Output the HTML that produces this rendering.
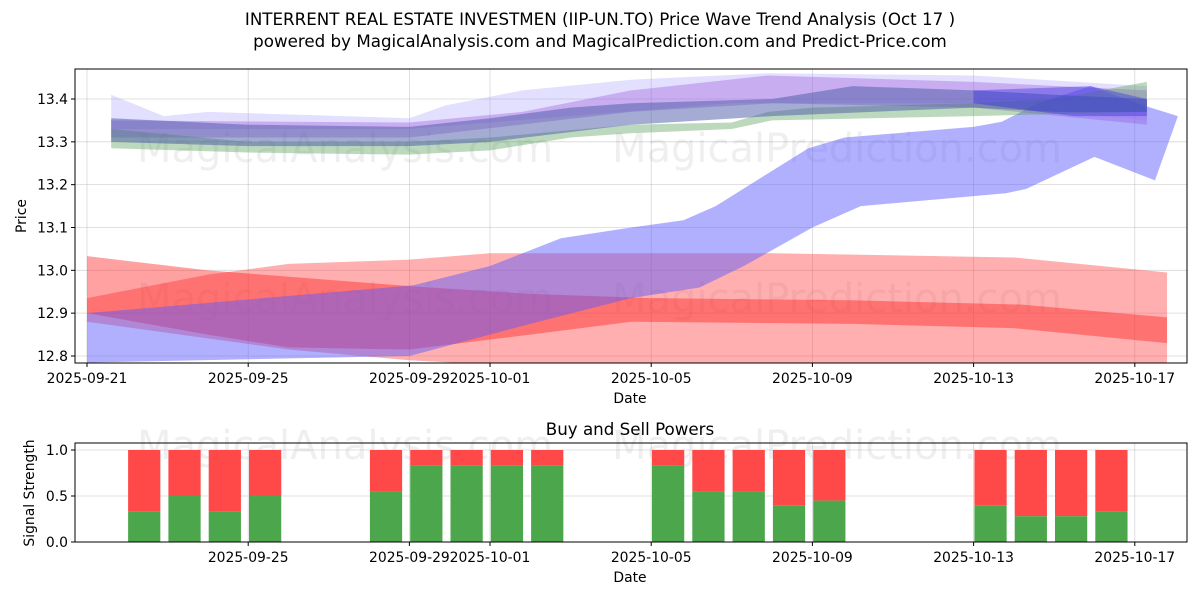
<!DOCTYPE html>
<html><head><meta charset="utf-8"><style>
body{margin:0;background:#fff;}
svg{display:block;font-family:"DejaVu Sans","Liberation Sans",sans-serif;}
</style></head><body>
<svg id="c" width="1200" height="600" viewBox="0 0 1200 600" xmlns="http://www.w3.org/2000/svg">
<rect width="1200" height="600" fill="#fff"/>
<text x="600" y="25" text-anchor="middle" font-size="16.7">INTERRENT REAL ESTATE INVESTMEN (IIP-UN.TO) Price Wave Trend Analysis (Oct 17 )</text>
<text x="600" y="47" text-anchor="middle" font-size="16.7">powered by MagicalAnalysis.com and MagicalPrediction.com and Predict-Price.com</text>
<defs>
<clipPath id="cpTop"><rect x="75" y="69" width="1112" height="294"/></clipPath>
</defs>
<g id="topg"></g>
<g id="botg"></g>
</svg>
<script>
// ---- data ----
const xTickLabelsTop = ["2025-09-21","2025-09-25","2025-09-29","2025-10-01","2025-10-05","2025-10-09","2025-10-13","2025-10-17"];
const xTickDaysTop = [0,4,8,10,14,18,22,26];
const xTickLabelsBot = ["2025-09-25","2025-09-29","2025-10-01","2025-10-05","2025-10-09","2025-10-13","2025-10-17"];
const xTickDaysBot = [4,8,10,14,18,22,26];
const yTicksTop = [12.8,12.9,13.0,13.1,13.2,13.3,13.4];
const yTicksBot = [0.0,0.5,1.0];

const lavenderUpper = [[0.6,13.41],[1.9,13.36],[3,13.37],[8,13.355],[8.9,13.385],[10.8,13.42],[13.5,13.445],[16.9,13.46],[22,13.455],[26.3,13.43]];
const lavenderLower = [[0.6,13.33],[8,13.33],[12,13.36],[16,13.39],[22,13.39],[26.3,13.35]];
const purpleUpper = [[0.6,13.35],[8,13.345],[10.8,13.37],[13.5,13.42],[16.9,13.455],[22,13.44],[26.3,13.42]];
const purpleLower = [[0.6,13.31],[8,13.31],[13.5,13.37],[17,13.39],[22,13.38],[26.3,13.34]];
const slateUpper = [[0.6,13.355],[4,13.34],[8,13.335],[10,13.355],[12,13.38],[13.5,13.39],[17,13.40],[19,13.43],[22,13.42],[24,13.41],[26.3,13.40]];
const slateLower = [[0.6,13.30],[4,13.29],[8,13.29],[10,13.30],[13.5,13.34],[17,13.36],[22,13.38],[24,13.37],[26.3,13.37]];
const greenUpper = [[0.6,13.33],[4,13.30],[8,13.30],[10,13.31],[13.5,13.34],[16,13.345],[16.9,13.37],[18,13.38],[22,13.39],[24,13.40],[26.3,13.44]];
const greenLower = [[0.6,13.285],[4,13.275],[8,13.27],[10,13.28],[12,13.31],[13.5,13.32],[16,13.33],[17,13.35],[22,13.36],[26.3,13.37]];
const blueTipUpper = [[22,13.42],[24.9,13.43],[26.3,13.40]];
const blueTipLower = [[22,13.39],[24.5,13.36],[26.3,13.36]];
const blueWaveUpper = [[0,12.90],[8.1,12.965],[10,13.01],[11.76,13.075],[13.5,13.10],[14.8,13.117],[15.6,13.15],[17.9,13.285],[18.8,13.31],[22,13.335],[22.7,13.347],[23.6,13.39],[24.9,13.43],[26.05,13.39],[27.07,13.36]];
const blueWaveLower = [[0,12.74],[0.2,12.785],[8,12.80],[11.2,12.88],[13.5,12.935],[15.2,12.96],[16.3,13.01],[18,13.10],[19.2,13.15],[22.8,13.18],[23.3,13.19],[25,13.265],[26.5,13.21]];
const redWideUpper = [[0,12.935],[3,12.99],[5,13.015],[8,13.025],[10,13.04],[17,13.04],[23,13.03],[26.8,12.995]];
const redWideLower = [[0,12.88],[5,12.815],[8,12.79],[10,12.78],[26.8,12.75]];
const redMidUpper = [[0,13.033],[3,13.0],[8,12.963],[11,12.945],[14,12.935],[19,12.93],[23.2,12.92],[26.8,12.89]];
const redMidLower = [[0,12.90],[3,12.85],[5,12.82],[8,12.815],[11,12.85],[13.5,12.88],[19,12.875],[23,12.865],[26.8,12.83]];

const barDays = [1,2,3,4,7,8,9,10,11,14,15,16,17,18,22,23,24,25];
const buyValues = [0.33,0.5,0.33,0.5,0.55,0.83,0.83,0.83,0.83,0.83,0.55,0.55,0.4,0.45,0.4,0.28,0.28,0.33];
const totalValues = [1,1,1,1,1,1,1,1,1,1,1,1,1,1,1,1,1,1];

(function(){
const NS="http://www.w3.org/2000/svg";
const X0=87, PXD=40.3, BAR_OFF=0.42, FS=13.9;
const L=75,R=1187,T1=69,B1=363,T2=443,B2=542;
function xS(d){return X0+d*PXD;}
function yTop(v){return 99+(13.4-v)*428.3;}
function yB(v){return B2-v*(B2-450);}
function el(tag,attrs,parent,text){const e=document.createElementNS(NS,tag);for(const k in attrs)e.setAttribute(k,attrs[k]);if(text!==undefined)e.textContent=text;parent.appendChild(e);return e;}
const topG=document.getElementById('topg'), botG=document.getElementById('botg');

xTickDaysTop.forEach(d=>{
  const g=el('line',{x1:xS(d),x2:xS(d),y1:T1,y2:B1,stroke:'#b0b0b0','stroke-width':0.8,'stroke-opacity':0.5},topG);
  
  
});
yTicksTop.forEach(v=>{
  const g=el('line',{x1:L,x2:R,y1:yTop(v),y2:yTop(v),stroke:'#b0b0b0','stroke-width':0.8,'stroke-opacity':0.5},topG);
  
  
});
[[345,148,'MagicalAnalysis.com'],[837,148,'MagicalPrediction.com'],[345,298,'MagicalAnalysis.com'],[837,298,'MagicalPrediction.com'],[345,445,'MagicalAnalysis.com'],[837,445,'MagicalPrediction.com']].forEach(w=>{
  const t=el('text',{x:w[0],y:w[1]+14,'text-anchor':'middle','font-size':40,fill:'#808080','fill-opacity':0.13},topG,w[2]);
  
  
});
const bandsG=el('g',{'clip-path':'url(#cpTop)'},topG);
function band(up,lo,color,op,name){
  const pts=up.map(p=>xS(p[0])+','+yTop(p[1])).concat(lo.slice().reverse().map(p=>xS(p[0])+','+yTop(p[1])));
  const p=el('polygon',{points:pts.join(' '),fill:color,'fill-opacity':op},bandsG);
  
  
}
band(redWideUpper,redWideLower,'#ff4040',0.42,'red-wide-band');
band(redMidUpper,redMidLower,'#ff2020',0.42,'red-mid-band');
band(blueWaveUpper,blueWaveLower,'#5a5aff',0.48,'blue-wave-band');
band(lavenderUpper,lavenderLower,'#9a8cff',0.28,'lavender-band');
band(purpleUpper,purpleLower,'#9850d8',0.35,'purple-band');
band(greenUpper,greenLower,'#5aa05a',0.4,'green-band');
band(slateUpper,slateLower,'#4a5aa8',0.5,'slate-band');
band(blueTipUpper,blueTipLower,'#3030e0',0.4,'blue-tip-band');

let f=el('rect',{x:L,y:T1,width:R-L,height:B1-T1,fill:'none',stroke:'#000','stroke-width':1},topG);


xTickDaysTop.forEach((d,i)=>{
  el('line',{x1:xS(d),x2:xS(d),y1:B1,y2:B1+4,stroke:'#000'},topG);
  const t=el('text',{x:xS(d),y:B1+20,'text-anchor':'middle','font-size':FS},topG,xTickLabelsTop[i]);
  
  
});
yTicksTop.forEach(v=>{
  el('line',{x1:L-4,x2:L,y1:yTop(v),y2:yTop(v),stroke:'#000'},topG);
  const t=el('text',{x:L-7,y:yTop(v)+5,'text-anchor':'end','font-size':FS},topG,v.toFixed(1));
  
  
});
let t1=el('text',{x:630,y:403,'text-anchor':'middle','font-size':FS},topG,'Date');


let t2=el('text',{x:26,y:216,'text-anchor':'middle','font-size':FS,transform:'rotate(-90 26 216)'},topG,'Price');



xTickDaysBot.forEach(d=>{el('line',{x1:xS(d),x2:xS(d),y1:T2,y2:B2,stroke:'#b0b0b0','stroke-width':0.8,'stroke-opacity':0.5},botG);});
yTicksBot.forEach(v=>{el('line',{x1:L,x2:R,y1:yB(v),y2:yB(v),stroke:'#b0b0b0','stroke-width':0.8,'stroke-opacity':0.5},botG);});
barDays.forEach((d,i)=>{
  const cx=xS(d+BAR_OFF), w=0.8*PXD;
  const s=el('rect',{x:cx-w/2,y:yB(totalValues[i]),width:w,height:yB(buyValues[i])-yB(totalValues[i]),fill:'#ff4848'},botG);
  
  
  const b=el('rect',{x:cx-w/2,y:yB(buyValues[i]),width:w,height:yB(0)-yB(buyValues[i]),fill:'#4ca74c'},botG);
  
  
});
f=el('rect',{x:L,y:T2,width:R-L,height:B2-T2,fill:'none',stroke:'#000','stroke-width':1},botG);


xTickDaysBot.forEach((d,i)=>{
  el('line',{x1:xS(d),x2:xS(d),y1:B2,y2:B2+4,stroke:'#000'},botG);
  const t=el('text',{x:xS(d),y:B2+20,'text-anchor':'middle','font-size':FS},botG,xTickLabelsBot[i]);
  
  
});
yTicksBot.forEach(v=>{
  el('line',{x1:L-4,x2:L,y1:yB(v),y2:yB(v),stroke:'#000'},botG);
  const t=el('text',{x:L-7,y:yB(v)+5,'text-anchor':'end','font-size':FS},botG,v.toFixed(1));
  
  
});
let t3=el('text',{x:630,y:435,'text-anchor':'middle','font-size':16.7},botG,'Buy and Sell Powers');


let t4=el('text',{x:630,y:582,'text-anchor':'middle','font-size':FS},botG,'Date');


let t5=el('text',{x:34,y:493,'text-anchor':'middle','font-size':FS,transform:'rotate(-90 34 493)'},botG,'Signal Strength');


})();
</script>
</body></html>
